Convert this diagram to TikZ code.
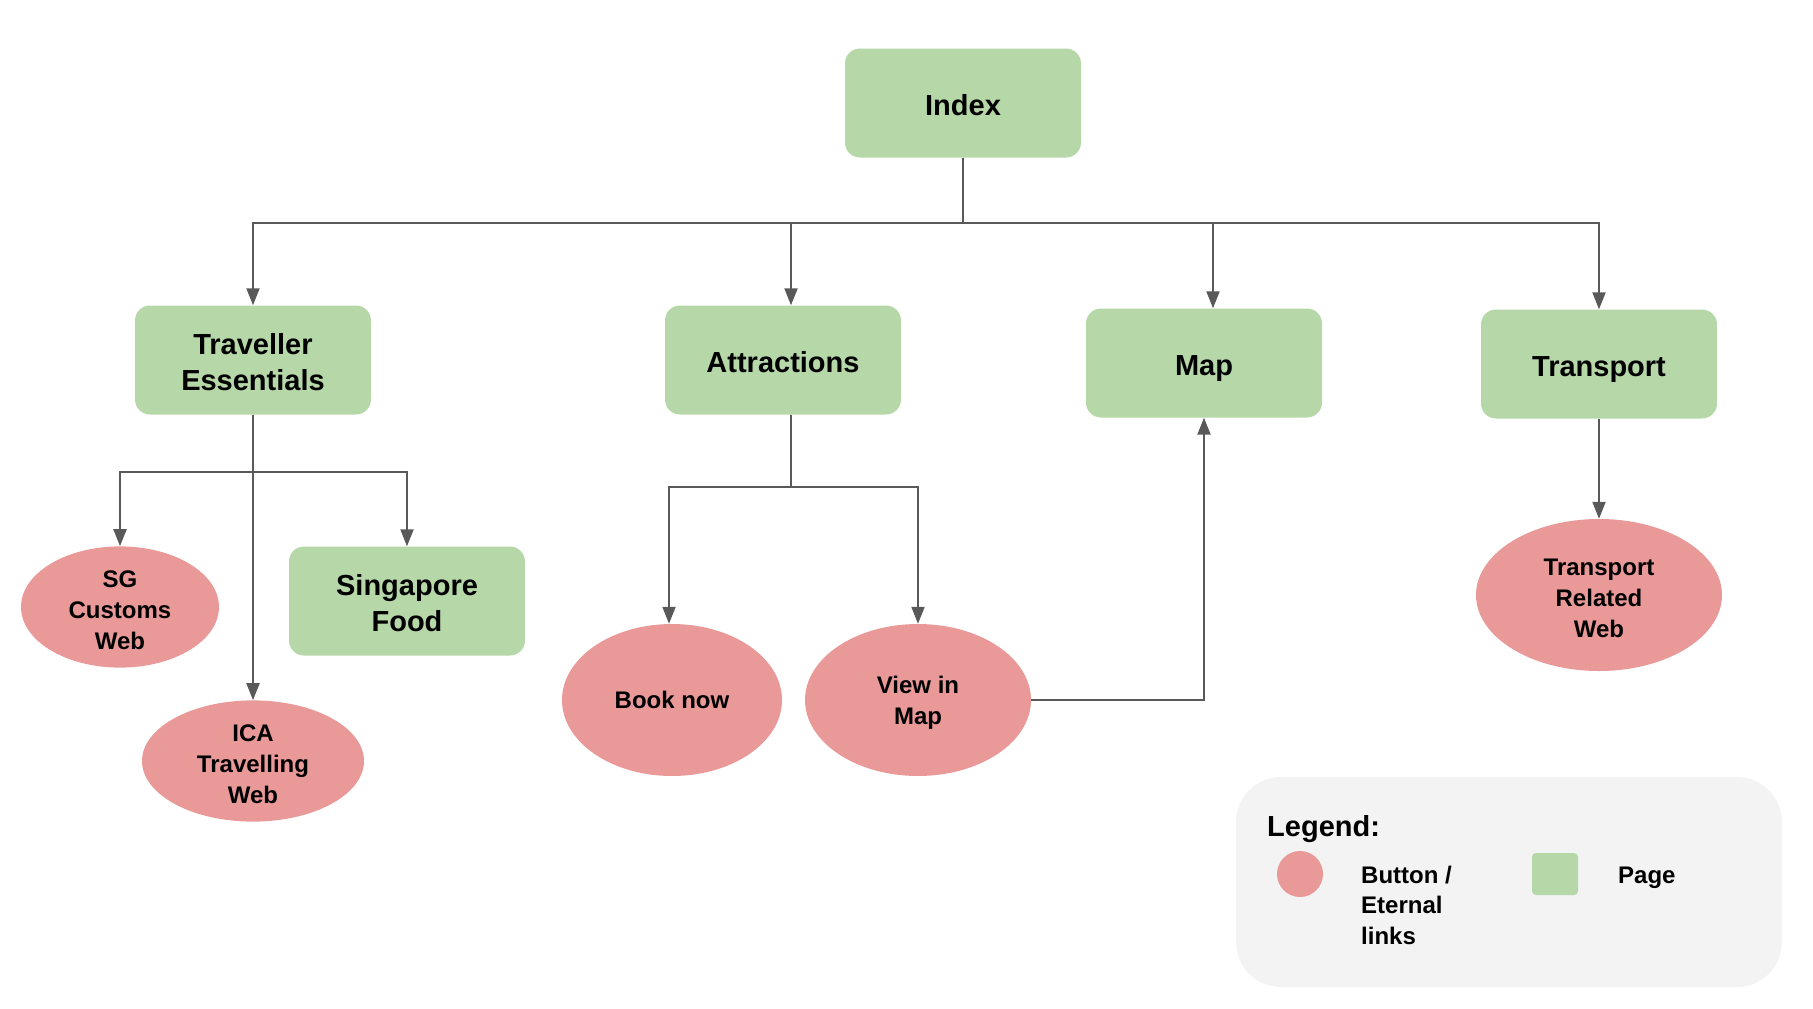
\documentclass[tikz,border=0pt]{standalone}
\usepackage{fontspec}
\setmainfont{Liberation Sans}
\usetikzlibrary{arrows.meta,shapes.geometric}
\definecolor{pagegreen}{HTML}{B6D7A8}
\definecolor{linkred}{HTML}{EA9999}
\definecolor{wire}{HTML}{595959}
\definecolor{legendbg}{HTML}{F3F3F3}
% invisible struts that pad the first line of multi-line labels
\newcommand\padP{\rule{0pt}{25.5pt}}
\newcommand\padL{\rule{0pt}{23.5pt}}

\begin{document}
\begin{tikzpicture}[x=1pt,y=-1pt,
  page/.style={fill=pagegreen, rounded corners=15pt, minimum width=236pt,
    minimum height=109pt, align=center, inner sep=0pt,
    font=\fontsize{29}{36}\selectfont\bfseries},
  % single-line page labels: centre on the cap height
  oneline/.style={text height=24pt, text depth=0pt},
  link/.style={ellipse, fill=linkred, align=center, inner sep=0pt,
    font=\fontsize{24}{31}\selectfont\bfseries},
  arr/.style={draw=wire, line width=2pt, -{Triangle[length=17pt,width=13pt]}},
  legendtext/.style={inner sep=0pt, align=left,
    font=\fontsize{24}{30.5}\selectfont\bfseries},
]
\useasboundingbox (0,0) rectangle (1813,1009);

% pages
\node[page, oneline] (idx) at (963,103) {Index};
\node[page] (te)  at (253,360) {\padP Traveller\\Essentials};
\node[page, oneline] (att) at (783,360) {Attractions};
\node[page, oneline] (map) at (1204,363) {Map};
\node[page, oneline] (tr)  at (1599,364) {Transport};
\node[page] (sf)  at (407,601) {\padP Singapore\\Food};

% buttons / external links
\node[link, minimum width=198pt, minimum height=120pt] (sg)  at (120,607) {\padL SG\\Customs\\Web};
\node[link, minimum width=222pt, minimum height=120pt] (ica) at (253,761) {\padL ICA\\Travelling\\Web};
\node[link, minimum width=220pt, minimum height=152pt] (book) at (672,700) {Book now};
\node[link, minimum width=226pt, minimum height=152pt] (vim) at (918,700) {\padL View in\\Map};
\node[link, minimum width=246pt, minimum height=152pt] (trw) at (1599,595) {\padL Transport\\Related\\Web};

% junction points
\coordinate (bus) at (963,223);
\coordinate (tebus) at (253,472);
\coordinate (attbus) at (791,487);

% Index to top-level pages
\draw[arr] (idx.south) -- (bus) -| (te.north);
\draw[arr] (idx.south) -- (bus) -| ([xshift=8pt]att.north);
\draw[arr] (idx.south) -- (bus) -| ([xshift=9pt]map.north);
\draw[arr] (idx.south) -- (bus) -| (tr.north);

% Traveller Essentials subtree
\draw[arr] (te.south) -- (ica.north);
\draw[arr] (te.south) -- (tebus) -| (sg.north);
\draw[arr] (te.south) -- (tebus) -| (sf.north);

% Attractions subtree
\draw[arr] ([xshift=8pt]att.south) -- (attbus) -| ([xshift=-3pt]book.north);
\draw[arr] ([xshift=8pt]att.south) -- (attbus) -| (vim.north);

% View in Map back to Map
\draw[arr] (vim.east) -| (map.south);

% Transport
\draw[arr] (tr.south) -- (trw.north);

% legend
\node[fill=legendbg, rounded corners=45pt, minimum width=546pt, minimum height=210pt,
  inner sep=0pt] (leg) at (1509,882) {};
\node[inner sep=0pt, anchor=west, font=\fontsize{29}{34}\selectfont\bfseries]
  (legtitle) at (1267,829.5) {Legend:};
\node[circle, fill=linkred, minimum size=46pt, inner sep=0pt] (legdot) at (1300,874) {};
\node[legendtext, anchor=west] (legdottext) at (1361,905) {Button /\\Eternal\\links};
\node[fill=pagegreen, rounded corners=4pt, minimum width=46pt, minimum height=42pt,
  inner sep=0pt] (legsq) at (1555,874) {};
\node[legendtext, anchor=west] (legsqtext) at (1618,877.5) {Page};
\end{tikzpicture}
\end{document}
